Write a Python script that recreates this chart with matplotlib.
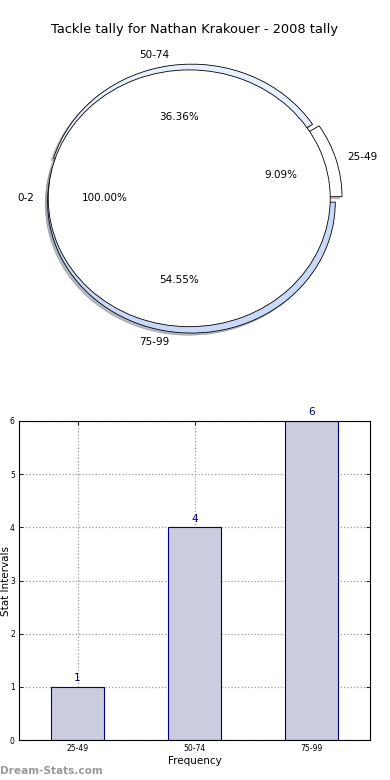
import matplotlib
matplotlib.use("Agg")
import matplotlib.pyplot as plt
import numpy as np

title = "Tackle tally for Nathan Krakouer - 2008 tally"
pie_labels = ["25-49", "50-74", "75-99"]
pie_values = [1, 4, 6]
pie_colors = ["#ffffff", "#e8f0ff", "#c8daf8"]
pie_explode = [0.045, 0.025, 0.03]
base_label = ["0-2"]
base_value = [1]

bar_labels = ["25-49", "50-74", "75-99"]
bar_values = [1, 4, 6]
y_ticks = [0, 1, 2, 3, 4, 5, 6]

fig = plt.figure(figsize=(3.9, 7.8), dpi=100)
fig.patch.set_facecolor("white")

fig.text(0.5, 1 - 30 / 780, title, ha="center", va="center", fontsize=9.4)

shadow_style = {"ox": -0.012, "oy": -0.012, "shade": 0.45}

# Pie axes
ax1 = fig.add_axes([13 / 390, 0.54, 352.5 / 390, 321 / 780])
ax1.pie(pie_values, labels=pie_labels, colors=pie_colors, explode=pie_explode,
        autopct="%.2f%%", shadow=shadow_style, startangle=0, radius=1.02, center=(0.02, 0),
        labeldistance=1.08,
        wedgeprops=dict(edgecolor="black", linewidth=0.6),
        textprops=dict(fontsize=7.5))
ax1.pie(base_value, labels=base_label, colors=["white"], autopct="%.2f%%",
        shadow=shadow_style, startangle=0, radius=1.0, center=(0, 0),
        wedgeprops=dict(edgecolor="black", linewidth=0.6),
        textprops=dict(fontsize=7.5))
ax1.set_aspect("auto")
ax1.set_xlim(-1.25, 1.25)
ax1.set_ylim(-1.25, 1.25)
ax1.axis("off")

# Bar axes
ax2 = fig.add_axes([19 / 390, 1 - 740 / 780, 351 / 390, 319 / 780])
x = np.arange(len(bar_values))
bars = ax2.bar(x, bar_values, width=0.45, color="#ccccdf", edgecolor="#000080", linewidth=0.8, zorder=2)
for xi, v in zip(x, bar_values):
    ax2.text(xi, v + 0.07, str(v), ha="center", va="bottom", color="#000080", fontsize=7.5)
ax2.set_xlim(-0.5, 2.5)
ax2.set_ylim(0, 6)
ax2.set_yticks(y_ticks)
ax2.set_xticks(x)
ax2.set_xticklabels(bar_labels)
ax2.tick_params(axis="both", labelsize=5.5, direction="in", top=True, right=True, length=3, width=0.6, pad=3)
ax2.grid(True, linestyle=":", color="#999999", linewidth=0.9, zorder=1)
ax2.set_axisbelow(True)
ax2.set_xlabel("Frequency", fontsize=7.5, labelpad=2)
ax2.set_ylabel("Stat Intervals", fontsize=7.5, va="center")
ax2.yaxis.set_label_coords(-0.036, 0.5)
for s in ax2.spines.values():
    s.set_linewidth(0.8)

fig.text(0.0, 1 - 771 / 780, "Dream-Stats.com", ha="left", va="center", fontsize=7.6,
         color="#999999", fontweight="bold")

fig.savefig("out.png", dpi=100)
